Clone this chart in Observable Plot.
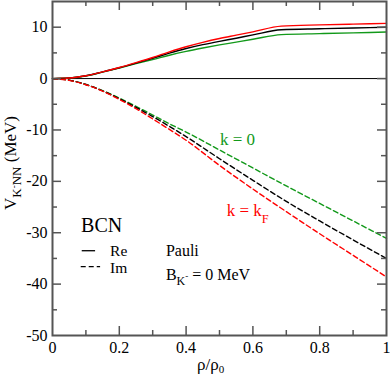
<!DOCTYPE html>
<html><head><meta charset="utf-8">
<script src="https://cdn.jsdelivr.net/npm/d3@7"></script>
<script src="https://cdn.jsdelivr.net/npm/@observablehq/plot@0.6"></script>
<style>
body{margin:0;background:#fff}
svg{display:block}
</style>
</head><body><div id="chart"></div>
<script>
// density rho/rho0 for Re curves (kink near 0.685)
const rhoRe = [0,0.05,0.1,0.15,0.2,0.25,0.3,0.35,0.4,0.45,0.5,0.55,0.6,0.685,0.8,0.9,1.0];
const reKF  = [0,0.1,0.55,1.3,2.15,3.1,4.1,5.2,6.2,7.05,7.8,8.45,9.1,10.2,10.45,10.6,10.75];
const reMid = [0,0.1,0.55,1.3,2.1,3.0,3.95,4.95,5.85,6.6,7.25,7.85,8.5,9.5,9.7,9.85,10.0];
const reK0  = [0,0.1,0.5,1.25,2.05,2.9,3.7,4.55,5.3,5.95,6.55,7.1,7.65,8.55,8.75,8.9,9.05];
// Im curves
const rhoIm = [0,0.05,0.1,0.15,0.2,0.25,0.3,0.35,0.4,0.5,0.6,0.7,0.8,0.9,1.0];
const imK0  = [0,-0.3,-1.15,-2.35,-3.8,-5.4,-7.1,-8.8,-10.4,-13.9,-17.4,-20.9,-24.3,-27.7,-31.1];
const imMid = [0,-0.3,-1.15,-2.4,-3.9,-5.6,-7.4,-9.3,-11.3,-15.6,-19.8,-23.9,-27.7,-31.4,-35.0];
const imKF  = [0,-0.35,-1.2,-2.45,-4.05,-5.85,-7.85,-9.9,-12.0,-16.9,-21.5,-25.9,-30.2,-34.4,-38.6];

const xTicks = [0,0.2,0.4,0.6,0.8,1];
const xMajorIn = [0.2,0.4,0.6,0.8];
const xMinor = [0.1,0.3,0.5,0.7,0.9];
const yTicks = [-50,-40,-30,-20,-10,0,10];
const yMajorIn = [-40,-30,-20,-10,0,10];
const yMinor = [-45,-35,-25,-15,-5,5];

const cRed = "#ff0000", cGreen = "#12991a", cBlack = "#000000";

const series = [];
function addSeries(xs, ys, key, part){ xs.forEach((x,i)=>series.push({x, y: ys[i], key, part})); }
addSeries(rhoRe, reKF, "kF", "Re");
addSeries(rhoRe, reMid, "mid", "Re");
addSeries(rhoRe, reK0, "k0", "Re");
addSeries(rhoIm, imK0, "k0", "Im");
addSeries(rhoIm, imMid, "mid", "Im");
addSeries(rhoIm, imKF, "kF", "Im");
const colorOf = {kF: cRed, mid: cBlack, k0: cGreen};

const W = 390, H = 377, mL = 52, mR = 4, mT = 1, mB = 42;
const pw = W - mL - mR, ph = H - mT - mB;
const tickCol = "#555";
const serif = "Tinos, 'Liberation Serif', LiberationSerif, 'Noto Serif', 'DejaVu Serif', DejaVuSerif, 'Times New Roman', Times, serif";

const marks = [
  Plot.ruleY([0], {stroke: "#000", strokeWidth: 1}),
];
for (const part of ["Re","Im"]) for (const key of ["k0","mid","kF"]) {
  marks.push(Plot.line(series.filter(d=>d.part===part && d.key===key), {
    x: "x", y: "y", stroke: colorOf[key], strokeWidth: 1.4, curve: "monotone-x",
    strokeDasharray: part === "Im" ? "5,3" : null
  }));
}
// legend line samples (layout positions in data units)
const legendLines = [
  {x1: 0.089, x2: 0.129, y: -33.5, dash: null},
  {x1: 0.086, x2: 0.144, y: -36.6, dash: "5,3"}
];
for (const l of legendLines) marks.push(Plot.ruleY([l.y], {x1: l.x1, x2: l.x2, stroke: "#000", strokeWidth: 1.3, strokeDasharray: l.dash}));

// inward ticks on all four sides
const big = 9, small = 5;
marks.push(
  Plot.tickX(xMajorIn, {x: d=>d, insetTop: ph - big, stroke: tickCol, strokeWidth: 1.5}),
  Plot.tickX(xMinor, {x: d=>d, insetTop: ph - small, stroke: tickCol, strokeWidth: 1.5}),
  Plot.tickX(xMajorIn, {x: d=>d, insetBottom: ph - big, stroke: tickCol, strokeWidth: 1.5}),
  Plot.tickX(xMinor, {x: d=>d, insetBottom: ph - small, stroke: tickCol, strokeWidth: 1.5}),
  Plot.tickY(yMajorIn, {y: d=>d, insetRight: pw - big, stroke: tickCol, strokeWidth: 1.5}),
  Plot.tickY(yMinor, {y: d=>d, insetRight: pw - small, stroke: tickCol, strokeWidth: 1.5}),
  Plot.tickY(yMajorIn, {y: d=>d, insetLeft: pw - big, stroke: tickCol, strokeWidth: 1.5}),
  Plot.tickY(yMinor, {y: d=>d, insetLeft: pw - small, stroke: tickCol, strokeWidth: 1.5}),
  Plot.frame({stroke: tickCol, strokeWidth: 2}),
  Plot.axisX({ticks: xTicks, tickSize: 0, tickPadding: 6, fontSize: 16, label: null, fontFamily: serif,
    tickFormat: d => String(d)}),
  Plot.axisY({ticks: yTicks, tickSize: 0, tickPadding: 5, fontSize: 16, label: null, fontFamily: serif,
    tickFormat: d => String(d)})
);

const svg = Plot.plot({
  width: W, height: H,
  marginLeft: mL, marginRight: mR, marginTop: mT, marginBottom: mB,
  x: {domain: [0, 1]},
  y: {domain: [-50, 15]},
  style: {fontFamily: serif, fontSize: "16px", background: "#fff", color: "#000"},
  marks
});
document.getElementById("chart").append(svg);

const X = svg.scale("x"), Y = svg.scale("y");
const root = d3.select(svg).append("g").attr("font-family", serif);
function rich(x, y, segs, {size = 16, fill = "#000", anchor = "start", rotate = 0} = {}) {
  const t = root.append("text")
    .attr("transform", `translate(${x},${y}) rotate(${rotate})`)
    .attr("text-anchor", anchor).attr("fill", fill).attr("font-size", size)
    .style("font-family", serif);
  let cur = 0;
  for (const [s, shift = 0, fs = size] of segs) {
    t.append("tspan").attr("dy", shift - cur).attr("font-size", fs).text(s);
    cur = shift;
  }
}
// axis titles
rich(16, mT + ph / 2 - 5, [["V"], ["K", 5, 13], ["-", 1, 9], ["NN", 5, 13], [" (MeV)", 0]], {size: 17, anchor: "middle", rotate: -90});
rich(197, 370, [["ρ/ρ"], ["0", 3, 11]], {size: 17});

// annotations (positions in data units)
rich(X.apply(0.087), Y.apply(-29.9), [["BCN"]], {size: 20});
rich(X.apply(0.174), Y.apply(-34.6), [["Re"]], {size: 15.5});
rich(X.apply(0.174), Y.apply(-37.9), [["Im"]], {size: 15.5});
rich(X.apply(0.341), Y.apply(-34.6), [["Pauli"]]);
rich(X.apply(0.341), Y.apply(-39.3), [["B"], ["K", 5, 12], ["-", -1, 9], [" = 0 MeV", 0]]);
rich(X.apply(0.503), Y.apply(-13.0), [["k = 0"]], {size: 17, fill: cGreen});
rich(X.apply(0.523), Y.apply(-26.8), [["k = k"], ["F", 7, 12.5]], {size: 17, fill: cRed});
</script>
</body></html>
